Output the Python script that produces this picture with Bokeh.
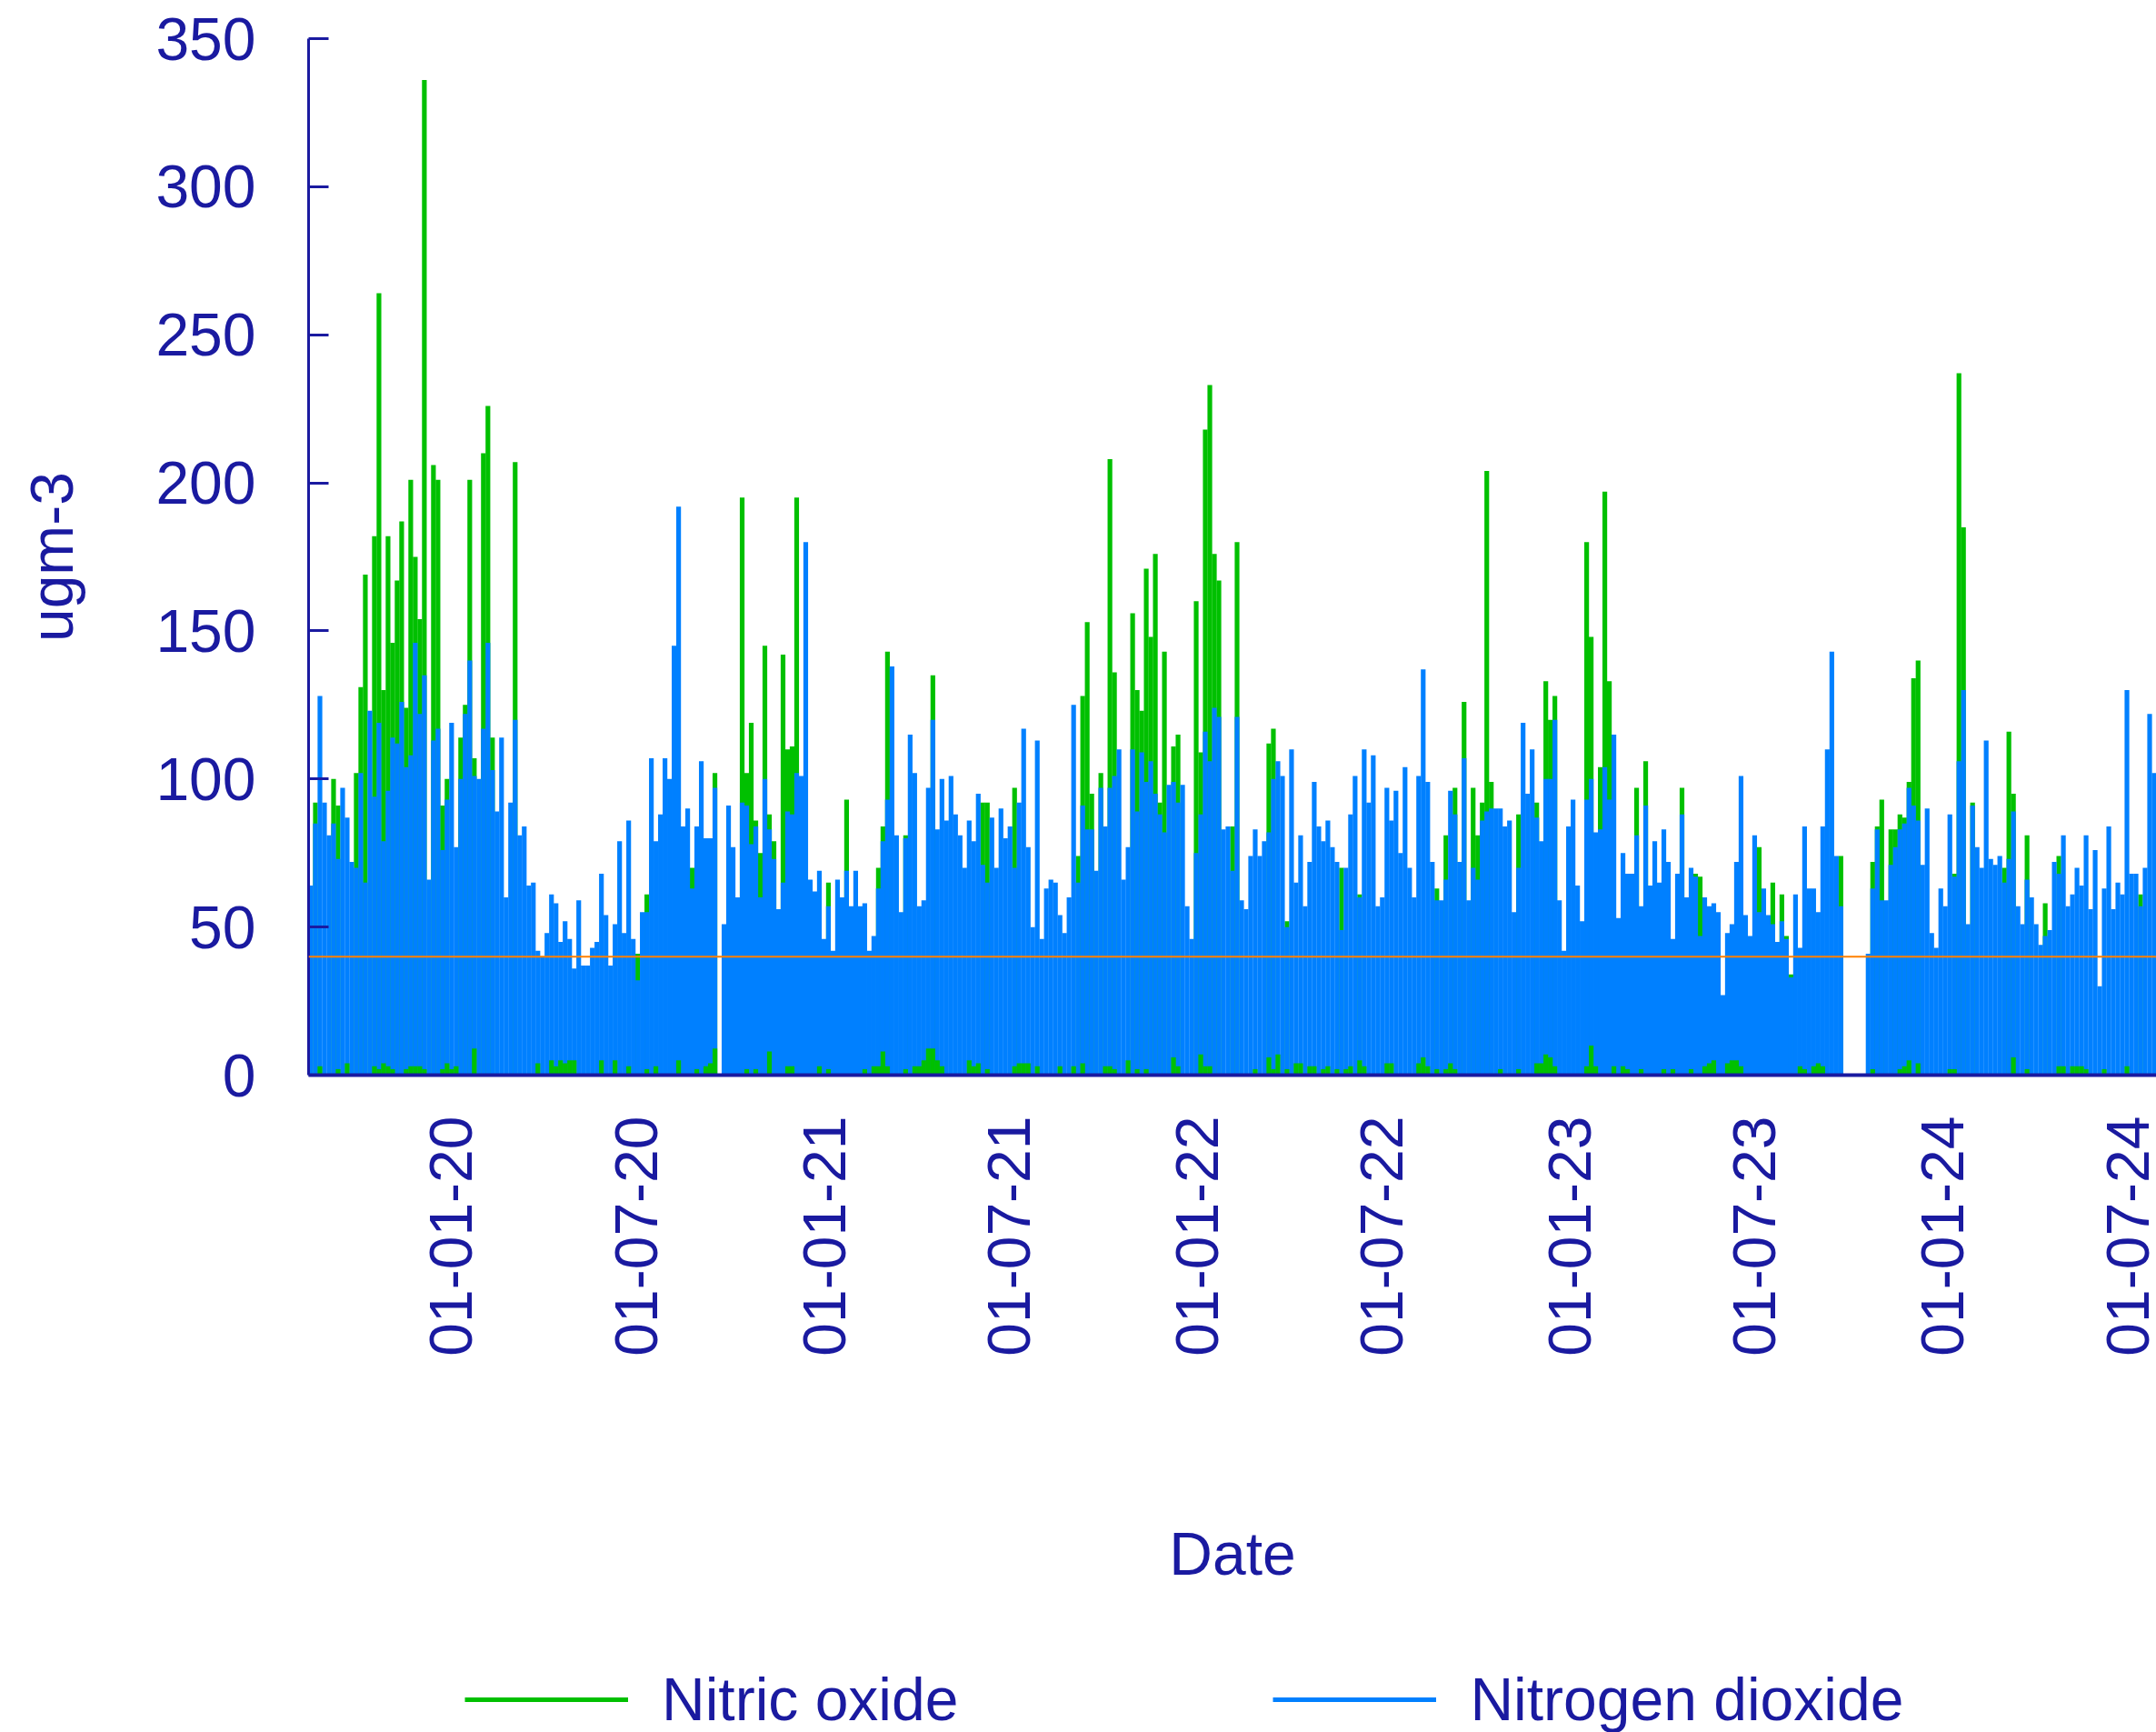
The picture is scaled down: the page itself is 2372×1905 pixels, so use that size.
import numpy as np
import pandas as pd
from bokeh.plotting import figure
from bokeh.layouts import column
from bokeh.models import (ColumnDataSource, Range1d, FixedTicker, DatetimeTickFormatter,
                          Span, Legend, LegendItem)
from bokeh.embed import file_html
from bokeh.resources import INLINE

# ---------------- data ----------------
PERIOD_START = "2019-08-15"
PERIOD_END = "2024-07-29"
TICK_DATES = ["2020-01-01", "2020-07-01", "2021-01-01", "2021-07-01", "2022-01-01",
              "2022-07-01", "2023-01-01", "2023-07-01", "2024-01-01", "2024-07-01"]
Y_TICKS = [0, 50, 100, 150, 200, 250, 300, 350]
LIMIT_VALUE = 40
SERIES = ["Nitric oxide", "Nitrogen dioxide"]

# Nitrogen dioxide (ugm-3), one value per plotted bar (0 = missing)
no2 = [
    64, 85, 128, 92, 81, 85, 73, 97, 87, 72,
    70, 102, 65, 123, 94, 119, 79, 96, 114, 112,
    126, 104, 108, 146, 122, 135, 66, 113, 117, 76,
    93, 119, 77, 100, 122, 140, 101, 100, 117, 146,
    103, 89, 114, 60, 92, 120, 81, 84, 64, 65,
    42, 40, 48, 61, 58, 45, 52, 46, 36, 59,
    37, 37, 43, 45, 68, 54, 37, 51, 79, 48,
    86, 46, 32, 55, 55, 107, 79, 88, 107, 100,
    145, 192, 84, 90, 63, 84, 106, 80, 80, 97,
    0, 51, 91, 77, 60, 92, 91, 78, 84, 60,
    100, 83, 73, 56, 65, 89, 88, 102, 101, 180,
    66, 62, 69, 46, 57, 42, 66, 60, 69, 57,
    69, 57, 58, 42, 47, 63, 79, 93, 138, 81,
    55, 80, 115, 102, 57, 59, 97, 120, 83, 100,
    86, 101, 88, 81, 70, 86, 79, 95, 71, 65,
    87, 70, 90, 80, 84, 70, 92, 117, 77, 50,
    113, 46, 63, 66, 65, 54, 48, 60, 125, 65,
    91, 83, 83, 69, 97, 84, 97, 101, 110, 66,
    77, 110, 89, 109, 99, 106, 95, 88, 82, 98,
    99, 92, 98, 57, 46, 75, 88, 116, 106, 124,
    121, 83, 84, 69, 121, 59, 56, 74, 83, 74,
    79, 82, 100, 106, 101, 50, 110, 65, 81, 57,
    72, 99, 84, 79, 86, 77, 72, 49, 70, 88,
    101, 60, 110, 92, 108, 57, 60, 97, 86, 96,
    75, 104, 70, 60, 101, 137, 99, 72, 59, 59,
    66, 96, 88, 72, 107, 59, 70, 66, 86, 89,
    90, 90, 90, 84, 86, 55, 70, 119, 95, 110,
    87, 79, 100, 100, 120, 59, 42, 84, 93, 64,
    52, 93, 100, 82, 83, 104, 93, 115, 53, 75,
    68, 68, 81, 57, 91, 64, 79, 65, 83, 72,
    46, 68, 88, 60, 70, 67, 47, 60, 57, 58,
    55, 27, 48, 51, 72, 101, 54, 47, 81, 55,
    63, 54, 51, 45, 52, 46, 33, 61, 43, 84,
    63, 63, 55, 84, 110, 143, 74, 57, 0, 0,
    0, 0, 0, 41, 63, 83, 59, 59, 71, 77,
    83, 85, 97, 91, 86, 71, 90, 48, 43, 63,
    57, 88, 67, 106, 130, 51, 91, 77, 70, 113,
    73, 71, 74, 65, 73, 89, 57, 51, 66, 60,
    51, 44, 47, 49, 72, 68, 81, 57, 61, 70,
    64, 81, 56, 76, 30, 63, 84, 56, 65, 61,
    130, 68, 68, 57, 70, 122, 102,
]

# Nitric oxide (ugm-3) where it rises above the nitrogen dioxide bar (0 = hidden)
no = [
    0, 92, 0, 0, 0, 100, 91, 0, 0, 0,
    102, 131, 169, 0, 182, 264, 130, 182, 146, 167,
    187, 124, 201, 175, 154, 336, 0, 206, 201, 91,
    100, 0, 0, 114, 125, 201, 107, 0, 210, 226,
    114, 0, 0, 0, 0, 207, 0, 0, 0, 0,
    0, 0, 0, 0, 0, 0, 0, 0, 0, 0,
    0, 0, 0, 0, 0, 0, 0, 0, 0, 0,
    0, 0, 41, 0, 61, 0, 0, 0, 0, 0,
    0, 0, 0, 0, 70, 0, 0, 0, 0, 102,
    0, 0, 0, 0, 0, 195, 102, 119, 86, 75,
    145, 88, 79, 0, 142, 110, 111, 195, 0, 0,
    0, 0, 0, 0, 65, 0, 0, 0, 93, 0,
    0, 0, 0, 0, 0, 70, 84, 143, 0, 0,
    0, 81, 0, 0, 0, 0, 0, 135, 0, 0,
    0, 0, 0, 0, 0, 0, 0, 0, 92, 92,
    0, 0, 0, 0, 0, 97, 0, 0, 0, 0,
    0, 0, 0, 0, 0, 0, 0, 0, 0, 74,
    128, 153, 95, 0, 102, 0, 208, 136, 0, 0,
    0, 156, 130, 123, 171, 148, 176, 92, 143, 0,
    111, 115, 0, 0, 0, 160, 109, 218, 233, 176,
    167, 0, 0, 84, 180, 0, 0, 0, 0, 0,
    0, 112, 117, 0, 0, 52, 0, 0, 0, 0,
    0, 0, 0, 0, 0, 0, 0, 70, 0, 0,
    0, 61, 0, 0, 0, 0, 0, 0, 0, 0,
    0, 0, 0, 0, 0, 0, 0, 0, 63, 0,
    81, 0, 97, 0, 126, 0, 97, 81, 92, 204,
    99, 0, 0, 0, 0, 0, 88, 0, 0, 0,
    92, 0, 133, 120, 128, 0, 0, 0, 0, 0,
    0, 180, 148, 0, 104, 197, 133, 0, 0, 0,
    0, 0, 97, 0, 106, 0, 0, 0, 0, 0,
    0, 0, 97, 0, 0, 68, 67, 0, 0, 0,
    0, 0, 0, 0, 0, 0, 0, 0, 0, 77,
    0, 0, 65, 0, 61, 47, 34, 0, 0, 0,
    0, 0, 0, 0, 0, 0, 0, 74, 0, 0,
    0, 0, 0, 0, 72, 84, 93, 0, 83, 83,
    88, 87, 99, 134, 140, 0, 0, 0, 0, 0,
    0, 0, 68, 237, 185, 0, 92, 0, 0, 0,
    0, 0, 0, 70, 116, 95, 0, 0, 81, 0,
    0, 0, 58, 0, 0, 74, 0, 0, 0, 0,
    0, 0, 0, 0, 0, 0, 0, 0, 0, 0,
    0, 0, 0, 61, 0, 0, 0,
]

# low nitric oxide readings showing at the foot of the bars: bar number -> value
no_low_bar = [2, 6, 8, 14, 15, 16, 17, 18, 21, 22, 23, 24, 25, 29, 30, 31, 32, 36, 50, 53,
              54, 55, 56, 57, 58, 64, 67, 70, 74, 76, 81, 85, 87, 88, 89, 96, 98, 101, 105, 106,
              112, 114, 122, 124, 125, 126, 127, 131, 133, 134, 135, 136, 137, 138, 139, 145, 146, 147, 149, 155,
              156, 157, 158, 160, 165, 168, 170, 175, 176, 177, 180, 182, 184, 190, 191, 196, 197, 198, 208, 211,
              212, 213, 215, 217, 218, 220, 221, 223, 224, 226, 228, 229, 231, 232, 237, 238, 244, 245, 246, 248,
              250, 251, 252, 262, 266, 270, 271, 272, 273, 274, 281, 282, 283, 287, 289, 290, 293, 298, 300, 304,
              307, 308, 309, 312, 313, 314, 315, 328, 329, 331, 332, 333, 344, 350, 351, 352, 354, 361, 362, 375,
              378, 385, 386, 388, 389, 390, 391, 395, 400]
no_low_val = [3, 2, 4, 3, 2, 4, 3, 2, 2, 3, 3, 3, 2, 2, 4, 2, 3, 9, 4, 5,
              3, 5, 4, 5, 5, 5, 5, 3, 2, 3, 5, 2, 3, 4, 9, 2, 2, 8, 3, 3,
              3, 2, 2, 3, 3, 8, 3, 2, 3, 3, 5, 9, 9, 5, 3, 5, 3, 4, 2, 3,
              4, 4, 4, 3, 3, 3, 4, 3, 3, 2, 5, 2, 2, 6, 3, 7, 3, 3, 2, 6,
              2, 7, 2, 4, 4, 3, 3, 2, 3, 2, 2, 3, 5, 3, 4, 4, 4, 6, 3, 2,
              2, 4, 2, 2, 2, 4, 4, 7, 6, 3, 3, 10, 3, 3, 3, 2, 2, 2, 2, 2,
              3, 4, 5, 4, 5, 5, 3, 3, 2, 3, 4, 3, 2, 2, 3, 5, 4, 2, 2, 6,
              2, 3, 3, 3, 3, 3, 2, 2, 3]

# ---------------- styling ----------------
GREEN = "#00C000"
BLUE = "#0080FF"
NAVY = "#1A1AA0"
ORANGE = "#FF8000"
FONT = "Liberation Sans"

n = len(no2)
t0 = pd.Timestamp(PERIOD_START).value / 1e6
t1 = pd.Timestamp(PERIOD_END).value / 1e6
step = (t1 - t0) / n
x = t0 + step * (np.arange(n) + 0.5)
no_low = np.zeros(n)
no_low[no_low_bar] = no_low_val

src = ColumnDataSource(dict(x=x, no2=no2, no=no, no_low=no_low))

p = figure(width=2372, height=1795, x_axis_type="datetime",
           x_range=Range1d(t0, t1), y_range=Range1d(0, 350),
           output_backend="svg", toolbar_location=None,
           min_border_left=339, min_border_right=0, min_border_top=42, min_border_bottom=613)
p.outline_line_color = None
p.grid.visible = False
p.background_fill_color = "white"

w = step * 1.04
p.vbar(x="x", top="no", width=w, bottom=0, source=src, fill_color=GREEN, line_color=None)
p.vbar(x="x", top="no2", width=w, bottom=0, source=src, fill_color=BLUE, line_color=None)
p.vbar(x="x", top="no_low", width=w, bottom=0, source=src, fill_color=GREEN, line_color=None)

p.add_layout(Span(location=LIMIT_VALUE, dimension="width", line_color=ORANGE, line_width=2,
                  level="overlay"))

# y axis
ya = p.yaxis[0]
ya.ticker = FixedTicker(ticks=Y_TICKS)
ya.minor_tick_line_color = None
ya.major_tick_in = 22
ya.major_tick_out = 0
ya.major_tick_line_width = 3
ya.major_tick_line_color = NAVY
ya.axis_line_color = NAVY
ya.axis_line_width = 3
ya.major_label_text_font = FONT
ya.major_label_text_font_size = "66px"
ya.major_label_text_color = NAVY
ya.major_label_standoff = 58
ya.axis_label = "ugm-3"
ya.axis_label_text_font = FONT
ya.axis_label_text_font_size = "66px"
ya.axis_label_text_font_style = "normal"
ya.axis_label_text_color = NAVY
ya.axis_label_standoff = 74

# x axis
tick_ms = [pd.Timestamp(d).value / 1e6 for d in TICK_DATES]
xa = p.xaxis[0]
xa.ticker = FixedTicker(ticks=tick_ms)
fmt = "%d-%m-%y"
xa.formatter = DatetimeTickFormatter(milliseconds=fmt, seconds=fmt, minsec=fmt, minutes=fmt,
                                     hourmin=fmt, hours=fmt, days=fmt, months=fmt, years=fmt)
xa.minor_tick_line_color = None
xa.major_tick_in = 0
xa.major_tick_out = 0
xa.axis_line_color = NAVY
xa.axis_line_width = 4
xa.major_label_orientation = np.pi / 2
xa.major_label_text_font = FONT
xa.major_label_text_font_size = "66px"
xa.major_label_text_color = NAVY
xa.major_label_standoff = 45
xa.axis_label = "Date"
xa.axis_label_text_font = FONT
xa.axis_label_text_font_size = "66px"
xa.axis_label_text_font_style = "normal"
xa.axis_label_text_color = NAVY
xa.axis_label_standoff = 177

# legend strip under the chart (its frame is aligned with the chart frame)
lg = figure(width=2372, height=110, x_range=Range1d(0, 1), y_range=Range1d(0, 1),
            output_backend="svg", toolbar_location=None,
            min_border_left=0, min_border_right=0, min_border_top=0, min_border_bottom=0)
lg.axis.visible = False
lg.grid.visible = False
lg.outline_line_color = None
r_no = lg.line(x=[-1, -1], y=[-1, -1], line_color=GREEN, line_width=5)
r_no2 = lg.line(x=[-1, -1], y=[-1, -1], line_color=BLUE, line_width=5)
legend = Legend(items=[LegendItem(label=SERIES[0], renderers=[r_no]),
                       LegendItem(label=SERIES[1], renderers=[r_no2])],
                orientation="horizontal", location=(172, -2),
                glyph_width=180, glyph_height=10, label_standoff=37, spacing=346,
                padding=0, margin=0, border_line_color=None, background_fill_alpha=0,
                label_text_font=FONT, label_text_font_size="66px", label_text_color=NAVY)
lg.add_layout(legend)

layout = column(p, lg, spacing=0)
open("out.html", "w").write(file_html(layout, INLINE))
